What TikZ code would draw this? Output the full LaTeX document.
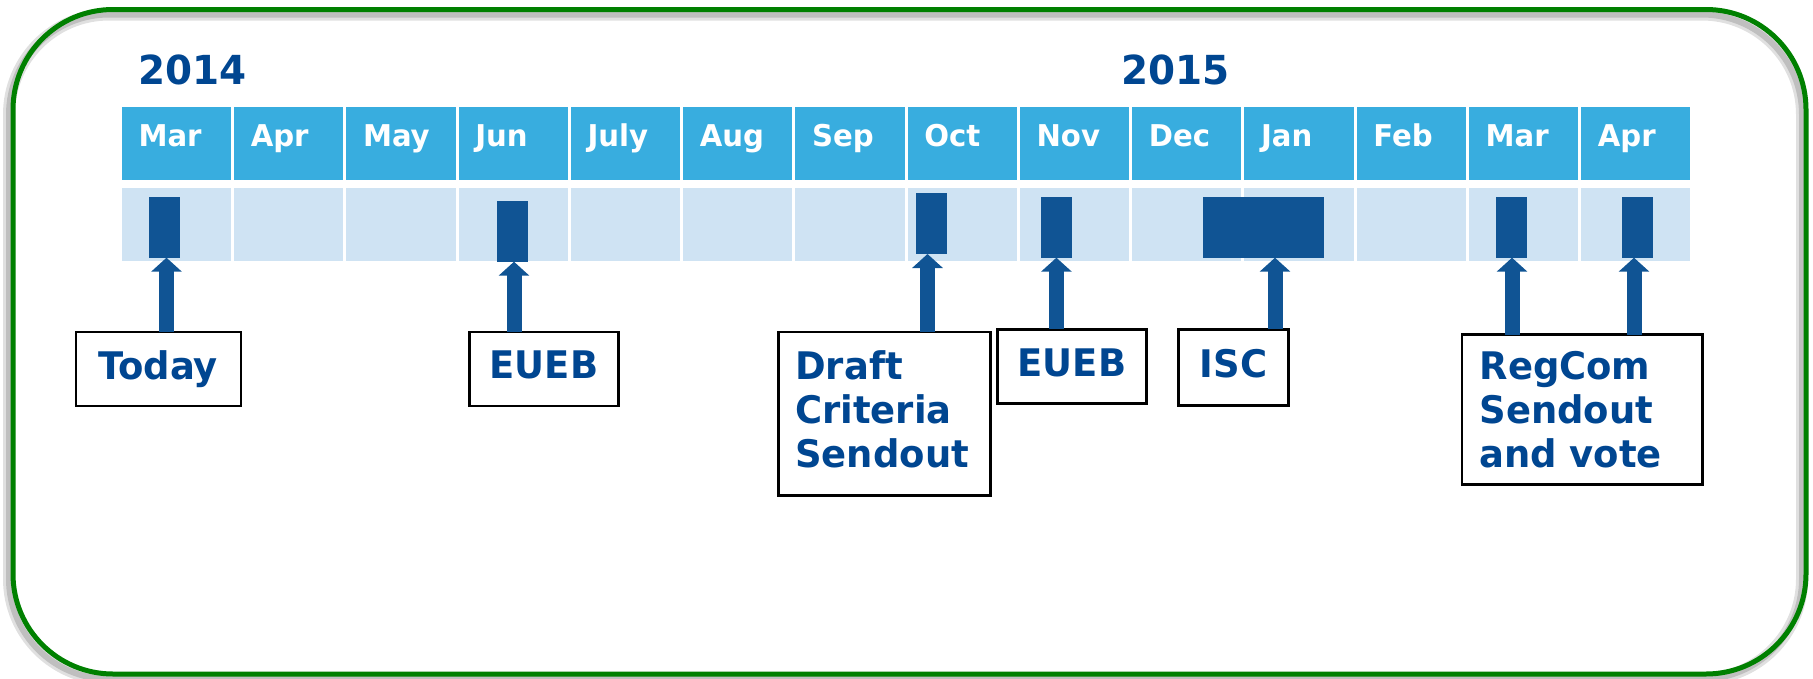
\documentclass[tikz,border=0pt]{standalone}
\usepackage{fontspec}
\newfontfamily\tah[FakeStretch=1.08]{DejaVuSansCondensed-Bold.ttf}
\usetikzlibrary{arrows.meta,calc}
\definecolor{hdr}{RGB}{56,173,223}
\definecolor{rowc}{RGB}{207,227,243}
\definecolor{barc}{RGB}{16,84,148}
\definecolor{txtc}{RGB}{0,70,145}
\definecolor{grn}{RGB}{0,128,0}
\begin{document}
\begin{tikzpicture}[x=1pt,y=-1pt,
  hcell/.style={fill=hdr, inner sep=0pt, outer sep=0pt, minimum width=109.26pt, minimum height=72.7pt},
  rcell/.style={fill=rowc, inner sep=0pt, outer sep=0pt, minimum width=109.26pt, minimum height=73pt},
  mon/.style={font=\tah\fontsize{30}{30}\selectfont, text=white, anchor=base west, inner sep=0pt},
  yr/.style={font=\tah\fontsize{40}{40}\selectfont, text=txtc, anchor=base west, inner sep=0pt},
  bar/.style={fill=barc, inner sep=0pt, outer sep=0pt, anchor=north west},
  lbox/.style={draw=black, line width=2.5pt, fill=white, text=txtc, inner sep=0pt, outer sep=0pt, anchor=north west,
    font=\tah\fontsize{38}{44}\selectfont},
  sbox/.style={lbox, text height=29pt, text depth=9pt},
  mbox/.style={lbox, align=left},
  arr/.style={draw=barc, line width=15pt, -{Triangle[width=30pt,length=14pt]}}
]
\useasboundingbox (0,0) rectangle (1813,678);
% frame with shadow
\draw[black, opacity=0.12, line width=12pt, rounded corners=100pt] (9,14.5) rectangle (1802,679);
\draw[black, opacity=0.15, line width=6pt, rounded corners=100pt] (9,14.5) rectangle (1802,679);
\draw[grn, line width=5pt, rounded corners=100pt] (13,9.5) rectangle (1806,674);
% years
\node[yr] (y14) at (138,84) {2014};
\node[yr] (y15) at (1121,84) {2015};
% months
\foreach \m [count=\i from 0] in {Mar,Apr,May,Jun,July,Aug,Sep,Oct,Nov,Dec,Jan,Feb,Mar,Apr} {
  \node[hcell] (h\i) at ({120.3+(\i+0.5)*112.26},143.65) {};
  \node[rcell] (r\i) at ({120.3+(\i+0.5)*112.26},224) {};
  \node[mon] (m\i) at ($(h\i.north west)+(16.5,38.7)$) {\m};
}
% bars
\node[bar, minimum width=31pt, minimum height=61pt] (b1) at (149,196.7) {};
\node[bar, minimum width=31pt, minimum height=60.7pt] (b2) at (497,201) {};
\node[bar, minimum width=31pt, minimum height=61.3pt] (b3) at (916,192.7) {};
\node[bar, minimum width=31pt, minimum height=61pt] (b4) at (1041,196.7) {};
\node[bar, minimum width=121pt, minimum height=61pt] (b5) at (1203,196.7) {};
\node[bar, minimum width=31pt, minimum height=61pt] (b6) at (1495.5,196.7) {};
\node[bar, minimum width=31pt, minimum height=61pt] (b7) at (1622,196.7) {};
% boxes
\node[sbox, minimum width=165pt, minimum height=74pt] (t1) at (75.9,332) {Today};
\node[sbox, minimum width=149.4pt, minimum height=73.8pt] (t2) at (469.3,332) {EUEB};
\node[mbox, inner xsep=17pt, text width=178pt, minimum height=163.7pt] (t3) at (778.3,332) {Draft\\Criteria\\Sendout\vspace{9pt}};
\node[sbox, minimum width=149.4pt, minimum height=74.4pt] (t4) at (997.3,329.3) {EUEB};
\node[sbox, minimum width=110.4pt, minimum height=76.4pt] (t5) at (1178.3,329.3) {ISC};
\node[mbox, inner xsep=17.8pt, text width=205pt, minimum height=149.8pt] (t6) at (1461.8,334.6) {RegCom\\Sendout\\and vote};
% arrows
\draw[arr] ($(t1.north west)+(90.6,0)$) coordinate (a1) -- (a1 |- b1.south);
\draw[arr] ($(t2.north west)+(44.7,0)$) coordinate (a2) -- (a2 |- b2.south);
\draw[arr] ($(t3.north west)+(149.2,0)$) coordinate (a3) -- (a3 |- b3.south);
\draw[arr] ($(t4.north west)+(59.1,0)$) coordinate (a4) -- (a4 |- b4.south);
\draw[arr] ($(t5.north west)+(96.7,0)$) coordinate (a5) -- (a5 |- b5.south);
\draw[arr] ($(t6.north west)+(50.2,0)$) coordinate (a6) -- (a6 |- b6.south);
\draw[arr] ($(t6.north west)+(172.2,0)$) coordinate (a7) -- (a7 |- b7.south);
\end{tikzpicture}
\end{document}
